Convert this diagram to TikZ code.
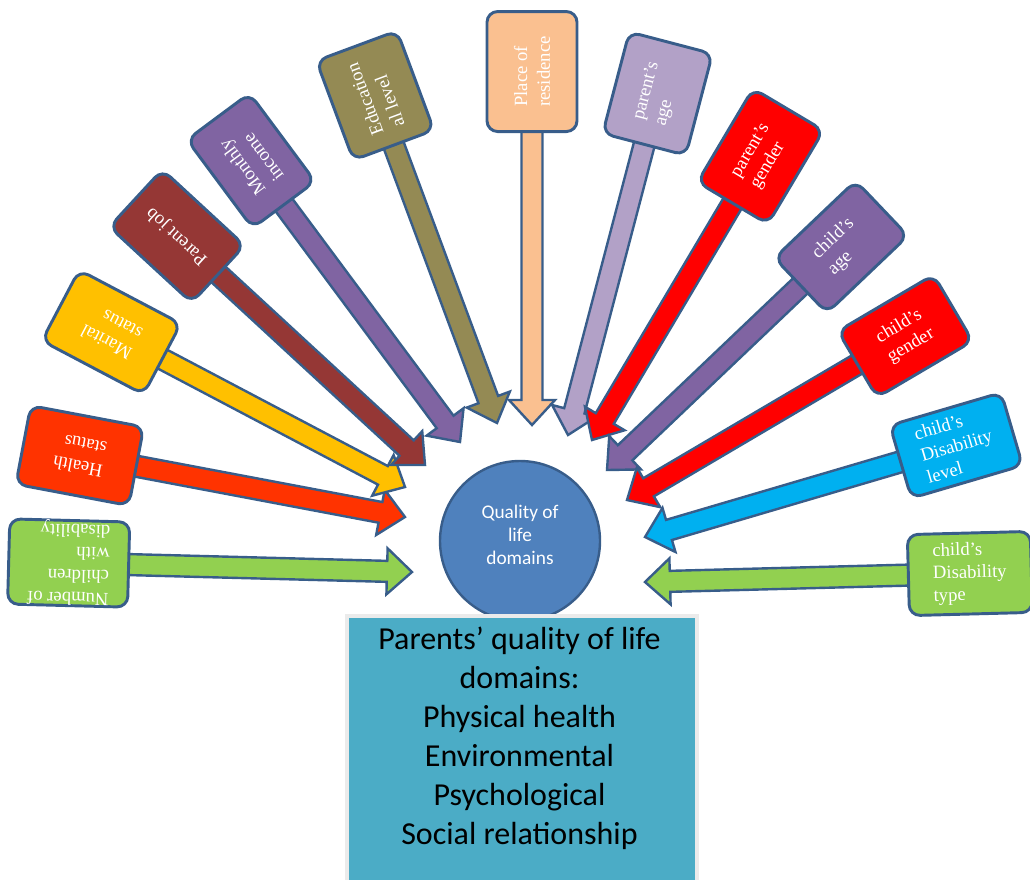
\documentclass[tikz,border=0pt]{standalone}
\usepackage{fontspec}
\setmainfont{Carlito}
\newfontfamily\boxserif{Liberation Serif}
\definecolor{edge}{HTML}{385D8A}
\definecolor{grass}{HTML}{92D050}
\definecolor{flame}{HTML}{FF3300}
\definecolor{amber}{HTML}{FFC000}
\definecolor{brick}{HTML}{953735}
\definecolor{plum}{HTML}{8064A2}
\definecolor{olive}{HTML}{948A54}
\definecolor{peach}{HTML}{FAC090}
\definecolor{lilac}{HTML}{B2A1C7}
\definecolor{scarlet}{HTML}{FF0000}
\definecolor{sky}{HTML}{00B0F0}
\definecolor{disc}{HTML}{4F81BD}
\definecolor{teal}{HTML}{4BACC6}
\tikzset{
	fbox/.style = {draw=edge, line width=2.2pt, rounded corners=8pt, text=white,
		font=\boxserif\fontsize{14}{17}\selectfont, align=left,
		inner xsep=3pt, inner ysep=0pt, transform shape},
	arr/.style = {draw=edge, line width=1.8pt, line join=miter}
}
% #1 name, #2 colour, #3 tip, #4 angle, #5 length, #6 width, #7 height, #8 text
\newcommand{\factor}[8]{\begin{scope}[shift={(#3)}, rotate=#4]
	\coordinate (#1tip) at (0,0);
	\draw[arr, fill=#2] (#1tip) -- (25,23) -- (25,10.5) -- (#5+6,10.5)
		-- (#5+6,-10.5) -- (25,-10.5) -- (25,-23) -- cycle;
	\node[fbox, fill=#2, minimum width=#6*0.75pt, minimum height=#7*0.75pt,
		anchor=west] (#1) at (#5,0) {#8};
	\end{scope}}

\begin{document}
\begin{tikzpicture}[x=0.75pt, y=-0.75pt]
	\useasboundingbox (0,0) rectangle (1030,879);
%Left side
	\factor{number}{grass}{412,572}{178.5}{282}{120}{85}{\fontsize{14}{16.5}\selectfont Number of\\children\\with\\disability};
	\factor{health}{flame}{405,517}{169.3}{272}{115}{80}{Health\\status};
	\factor{marital}{amber}{405,487}{152.2}{273}{115}{80}{Marital\\status};
	\factor{job}{brick}{425,465}{137.3}{280}{112}{78}{Parent job};
	\factor{income}{plum}{460,442}{126.6}{294}{110}{78}{Monthly\\income};
	\factor{education}{olive}{497,423}{110.4}{295}{106}{86}{Education\\al level};
%Top
	\factor{residence}{peach}{532,425}{90}{292}{120}{90}{Place of\\residence};
%Right side
	\factor{page}{lilac}{568,435}{75.3}{299}{105}{86}{parent’s\\age};
	\factor{pgender}{scarlet}{592,440}{59.3}{274}{109}{82}{parent’s\\gender};
	\factor{cage}{plum}{607,470}{43.6}{266}{112}{76}{child’s\\age};
	\factor{cgender}{scarlet}{627,500}{30.5}{266}{111}{77}{child’s\\gender};
	\factor{level}{sky}{645,537}{16.4}{265}{116}{76}{child’s\\Disability\\level};
	\factor{type}{grass}{645,582}{1.5}{262}{123}{81}{child’s\\Disability\\type};
%Centre
	\node[circle, fill=disc, draw=edge, line width=1.8pt, minimum size=160*0.75pt] (qol) at (520,541) {};
	\node[text=white, align=center, font=\fontsize{14.5}{17.3}\selectfont] (qoltext) at (520,535)
		{Quality of\\life\\domains};
%Domains box
	\node[draw=black!8, line width=3pt, fill=teal, anchor=north west,
		minimum width=350*0.75pt, minimum height=280*0.75pt] (domainbox) at (345,614) {};
	\node[align=center, font=\fontsize{24}{29.3}\selectfont] (domains) at (519.5,738.5)
		{Parents’ quality of life\\domains:\\Physical health\\Environmental\\Psychological\\Social relationship};
\end{tikzpicture}
\end{document}
